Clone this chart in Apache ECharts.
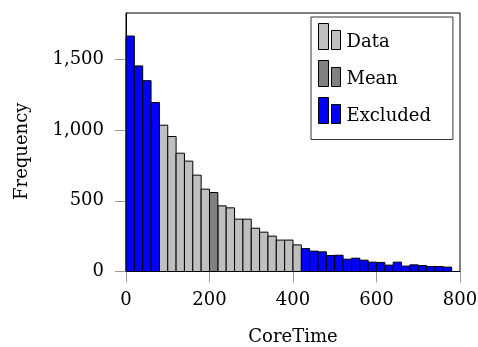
<!DOCTYPE html>
<html><head><meta charset="utf-8">
<script src="https://cdn.jsdelivr.net/npm/echarts@6/dist/echarts.min.js"></script>
<style>html,body{margin:0;padding:0;background:#fff}#c{width:478px;height:347px}</style>
</head><body><div id="c"></div>
<script>
const binStart = [0,20,40,60,80,100,120,140,160,180,200,220,240,260,280,300,320,340,360,380,400,420,440,460,480,500,520,540,560,580,600,620,640,660,680,700,720,740,760];
const binWidth = 20;
const counts = [1664,1453,1349,1194,1034,954,836,780,681,582,558,464,450,370,370,306,278,250,222,222,188,162,144,139,113,115,87,94,80,66,64,45,66,38,47,42,35,35,31];
const groups = ['Excluded','Excluded','Excluded','Excluded','Data','Data','Data','Data','Data','Data','Mean','Data','Data','Data','Data','Data','Data','Data','Data','Data','Data','Excluded','Excluded','Excluded','Excluded','Excluded','Excluded','Excluded','Excluded','Excluded','Excluded','Excluded','Excluded','Excluded','Excluded','Excluded','Excluded','Excluded','Excluded'];
const seriesNames = ['Data','Mean','Excluded'];
const xTicks = [0,200,400,600,800];
const yTicks = [0,500,1000,1500];
const colors = {Data:'#bfbfbf', Mean:'#808080', Excluded:'#0000ff'};
const FONT = 'DejaVu Serif';
const FS = 18;

function renderItem(params, api){
  const x0 = api.value(0), x1 = api.value(1), y = api.value(2);
  const p0 = api.coord([x0, y]);
  const p1 = api.coord([x1, 0]);
  return {type:'rect', shape:{x:p0[0], y:p0[1], width:p1[0]-p0[0], height:p1[1]-p0[1]},
    style: api.style({stroke:'#000', lineWidth:1})};
}
const series = seriesNames.map(name => ({
  name, type:'custom', renderItem,
  itemStyle:{color:colors[name], borderColor:'#000', borderWidth:1},
  encode:{x:[0,1], y:2},
  data: binStart.map((s,i)=> groups[i]===name ? [s, s+binWidth, counts[i]] : null).filter(d=>d)
}));
const iconPath = 'path://M0,0L10,0L10,26L0,26Z M13,7L22,7L22,26L13,26Z';
const chart = echarts.init(document.getElementById('c'));
chart.setOption({
  animation:false,
  textStyle:{fontFamily:FONT},
  grid:{left:126, right:18, top:13, bottom:75.5, outerBoundsMode:'none', containLabel:false,
    show:true, borderColor:'#000', borderWidth:1, backgroundColor:'transparent'},
  legend:{
    orient:'vertical', left:311, top:17, icon:iconPath, itemWidth:22, itemHeight:26, itemGap:8.5,
    padding:[6,22,14,7], backgroundColor:'#fff', borderColor:'#333', borderWidth:1, borderRadius:0,
    formatter: n => '{t|' + n + '}',
    textStyle:{fontFamily:FONT, fontSize:FS, color:'#000',
      rich:{t:{fontFamily:FONT, fontSize:FS, color:'#000', padding:[12,0,0,1]}}},
    data: seriesNames.map(n=>({name:n, icon:iconPath, itemStyle:{color:colors[n], borderColor:'#000', borderWidth:1}}))
  },
  xAxis:{type:'value', min:0, max:800, interval:200,
    name:'CoreTime', nameLocation:'middle', nameGap:57,
    nameTextStyle:{fontFamily:FONT, fontSize:FS, color:'#000'},
    axisLine:{show:true, onZero:false, lineStyle:{color:'#000', width:1}},
    axisTick:{show:true, length:11, lineStyle:{color:'#999'}, customValues:xTicks},
    axisLabel:{fontFamily:FONT, fontSize:FS, color:'#000', margin:20, customValues:xTicks},
    splitLine:{show:false}},
  yAxis:{type:'value', min:0, max:1827, interval:500,
    name:'Frequency', nameLocation:'middle', nameGap:95,
    nameTextStyle:{fontFamily:FONT, fontSize:FS, color:'#000', padding:[0,18,0,0]},
    axisLine:{show:true, lineStyle:{color:'#000', width:1}},
    axisTick:{show:true, length:11, lineStyle:{color:'#999'}, customValues:yTicks},
    axisLabel:{fontFamily:FONT, fontSize:FS, color:'#000', margin:22, customValues:yTicks,
      formatter:v=>v.toLocaleString('en-US')},
    splitLine:{show:false}},
  series
});
</script></body></html>
